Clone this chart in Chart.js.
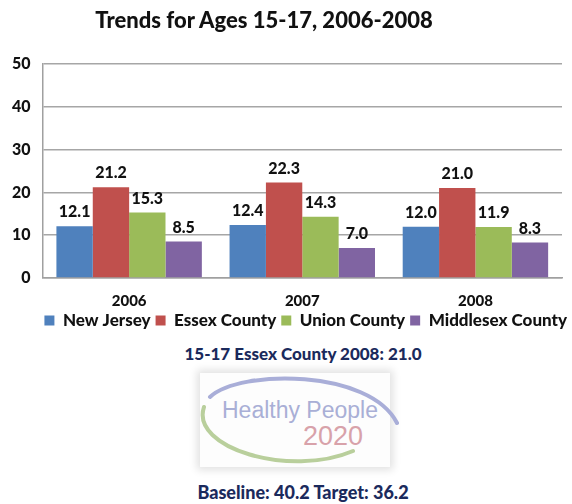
<!DOCTYPE html>
<html>
<head>
<meta charset="utf-8">
<script src="https://cdn.jsdelivr.net/npm/chart.js@4"></script>
<style>
  html, body { margin: 0; padding: 0; background: #fff; }
  body { width: 572px; height: 504px; position: relative; overflow: hidden; font-family: Lato, 'DejaVu Sans', sans-serif; }
  #title { position: absolute; left: 0; width: 528px; top: 6px; text-align: center; font-weight: 900; font-size: 22px; color: #111; }
  #wrap { position: absolute; left: 0; top: 0; width: 572px; height: 339px; }
  .navy { position: absolute; left: 0; width: 606px; text-align: center; font-weight: 900; font-size: 17px; color: #1b2a5c; }
  #logo { position: absolute; left: 200px; top: 373px; width: 190px; height: 94px; background: #fdfdfd; box-shadow: 0 0 8px 3px rgba(0,0,0,0.12); }
  #logo svg { position: absolute; left: 0; top: 0; overflow: visible; }
  #hp { position: absolute; left: 22px; top: 24px; font-family: 'Liberation Sans', Arial, sans-serif; font-size: 23px; color: #a9afd6; }
  #yr { position: absolute; left: 103px; top: 48px; font-family: 'Liberation Sans', Arial, sans-serif; font-size: 27px; color: #d8a2aa; }
</style>
</head>
<body>
<div id="wrap"><canvas id="c" width="572" height="339"></canvas></div>
<div id="title">Trends for Ages 15-17, 2006-2008</div>
<div class="navy" style="top:343px">15-17 Essex County 2008: 21.0</div>
<div id="logo">
  <svg width="190" height="94" viewBox="0 0 190 94">
    <path d="M10 24 C 40 -4, 170 -4, 197 50" fill="none" stroke="#a9aed8" stroke-width="4" stroke-linecap="round"/>
    <path d="M4 34 C -10 75, 90 105, 153 78" fill="none" stroke="#b9cf9c" stroke-width="4" stroke-linecap="round"/>
  </svg>
  <div id="hp">Healthy People</div>
  <div id="yr">2020</div>
</div>
<div class="navy" style="top:481px; font-size:18px">Baseline: 40.2 Target: 36.2</div>
<script>
const years = ['2006', '2007', '2008'];
const newJersey = [12.1, 12.4, 12.0];
const essexCounty = [21.2, 22.3, 21.0];
const unionCounty = [15.3, 14.3, 11.9];
const middlesexCounty = [8.5, 7.0, 8.3];
const yTicks = [0, 10, 20, 30, 40, 50];

const FONT = 'Lato, "DejaVu Sans", sans-serif';

/* value labels above every bar */
const barLabels = {
  id: 'barLabels',
  afterDatasetsDraw(chart) {
    const ctx = chart.ctx;
    ctx.save();
    ctx.font = '900 16px ' + FONT;
    ctx.fillStyle = '#111';
    ctx.textAlign = 'center';
    ctx.textBaseline = 'bottom';
    chart.data.datasets.forEach((ds, i) => {
      chart.getDatasetMeta(i).data.forEach((bar, j) => {
        ctx.fillText(ds.data[j].toFixed(1), bar.x, bar.y - 6);
      });
    });
    ctx.restore();
  }
};

const mk = (label, data, color) => ({ label, data, backgroundColor: color, borderWidth: 0 });

new Chart(document.getElementById('c').getContext('2d'), {
  type: 'bar',
  data: { labels: years, datasets: [
    mk('New Jersey', newJersey, '#4f81bd'),
    mk('Essex County', essexCounty, '#c0504d'),
    mk('Union County', unionCounty, '#9bbb59'),
    mk('Middlesex County', middlesexCounty, '#8064a2'),
  ]},
  options: {
    responsive: false, animation: false,
    barPercentage: 1, categoryPercentage: 0.84,
    layout: { padding: { top: 64, right: 0, left: 0, bottom: 0 } },
    plugins: {
      legend: { position: 'bottom', fullSize: true, align: 'end',
        labels: { boxWidth: 10, boxHeight: 10, padding: 5, color: '#111', font: { family: FONT, size: 17, weight: '900' } } },
      tooltip: { enabled: false },
      title: { display: false }
    },
    scales: {
      x: { grid: { display: false, drawTicks: false }, border: { color: '#a0a0a0', width: 1.5 },
        afterFit: s => { s.height -= 17; },
        ticks: { color: '#111', padding: 14, font: { family: FONT, size: 15, weight: '900' } } },
      y: { min: 0, max: 50, afterBuildTicks: a => { a.ticks = yTicks.map(v => ({ value: v })); },
        grid: { color: '#a6a6a6', lineWidth: 1.5, drawTicks: false }, border: { color: '#a0a0a0', width: 1.5 },
        ticks: { color: '#111', padding: 12, font: { family: FONT, size: 16, weight: '900' } } },
      // blank right gutter so grid lines stop short of the edge
      y2: { position: 'right', min: 0, max: 50, grid: { display: false, drawTicks: false }, border: { display: false },
        ticks: { display: false }, afterFit: s => { s.width = 10; } }
    }
  },
  plugins: [barLabels]
});
</script>
</body>
</html>
